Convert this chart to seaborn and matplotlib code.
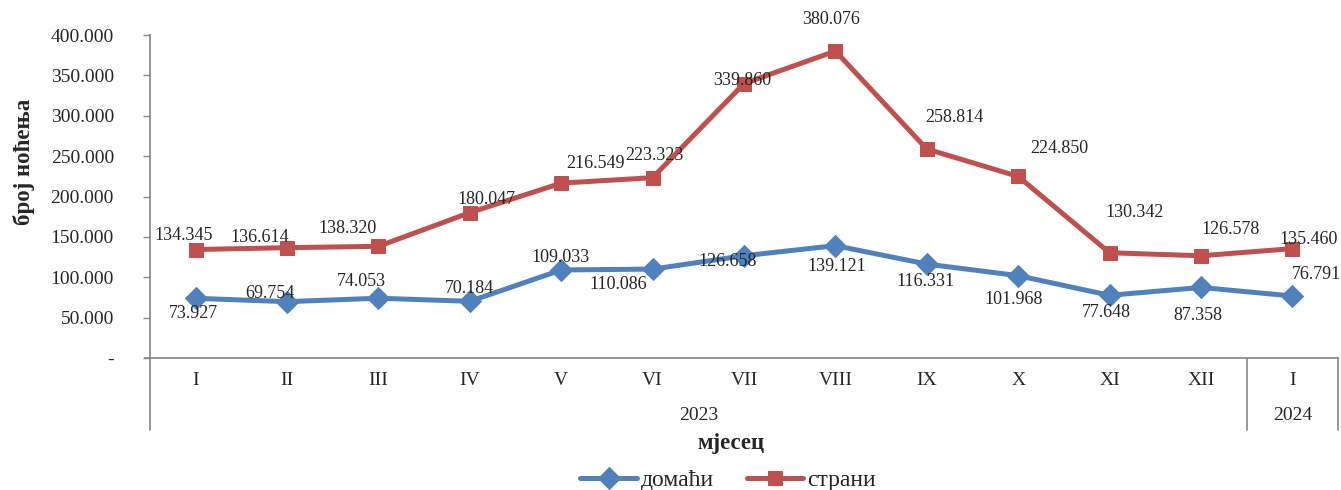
import matplotlib.pyplot as plt
import matplotlib.transforms as mtransforms
import numpy as np
import pandas as pd
import seaborn as sns

sns.set_style('white')
plt.rcParams['font.family'] = ['Liberation Serif', 'DejaVu Serif']

# podaci
months = ['I', 'II', 'III', 'IV', 'V', 'VI', 'VII', 'VIII', 'IX', 'X', 'XI', 'XII', 'I']
years = ['2023', '2024']
year_len = [12, 1]
domaci = [73927, 69754, 74053, 70184, 109033, 110086, 126658, 139121, 116331, 101968, 77648, 87358, 76791]
strani = [134345, 136614, 138320, 180047, 216549, 223323, 339860, 380076, 258814, 224850, 130342, 126578, 135460]
yticks = [0, 50000, 100000, 150000, 200000, 250000, 300000, 350000, 400000]

# pomaci natpisa (pikseli)
off_strani = [(-12, 14), (-27, 10), (-31, 18), (17, 13), (34, 20), (2, 22), (-2, 3),
              (-4, 32), (28, 32), (41, 28), (25, 40), (30, 26), (16, 9)]
off_domaci = [(-2, -15), (-17, 8), (-17, 17), (0, 13), (-1, 12), (-34, -15), (-16, -6),
              (1, -21), (-1, -17), (-5, -24), (-3, -17), (-3, -28), (24, 21)]

BLUE = '#4F81BD'
RED = '#C0504D'
GREY = '#868686'


def fmt(v):
    return '-' if v == 0 else f'{v:,}'.replace(',', '.')


df = pd.DataFrame({'x': np.arange(len(months)), 'домаћи': domaci, 'страни': strani})

fig = plt.figure(figsize=(13.41, 4.90), dpi=100)
ax = fig.add_axes([150 / 1341, 1 - 358 / 490, 1188 / 1341, 323 / 490])

sns.lineplot(data=df, x='x', y='домаћи', ax=ax, color=BLUE, linewidth=3.6,
             marker='D', markersize=11, markeredgecolor=BLUE, label='домаћи')
sns.lineplot(data=df, x='x', y='страни', ax=ax, color=RED, linewidth=3.6,
             marker='s', markersize=10, markeredgecolor=RED, label='страни')

# natpisi vrijednosti
for i, v in enumerate(strani):
    ax.annotate(fmt(v), (i, v), xytext=off_strani[i], textcoords='offset pixels',
                ha='center', va='center', fontsize=13, annotation_clip=False)
for i, v in enumerate(domaci):
    ax.annotate(fmt(v), (i, v), xytext=off_domaci[i], textcoords='offset pixels',
                ha='center', va='center', fontsize=13, annotation_clip=False)

ax.set_xlim(-0.5, len(months) - 0.5)
ax.set_ylim(0, 400000)
ax.set_yticks(yticks)
ax.set_yticklabels([fmt(v) for v in yticks], fontsize=14)
ax.set_xticks(np.arange(len(months)))
ax.set_xticklabels(months, fontsize=14)
ax.tick_params(axis='x', length=0, pad=10)
ax.tick_params(axis='y', length=5, width=1, color=GREY, left=True, pad=21)

for s in ['top', 'right']:
    ax.spines[s].set_visible(False)
for s in ['left', 'bottom']:
    ax.spines[s].set_color(GREY)
    ax.spines[s].set_linewidth(1.2)
ax.spines['bottom'].set_bounds(-0.5 - 0.06, len(months) - 0.5)

# okviri godina ispod osi
trans = mtransforms.blended_transform_factory(ax.transData, ax.transAxes)
edges = np.concatenate([[0], np.cumsum(year_len)]) - 0.5
for e in edges:
    ax.plot([e, e], [0, -72 / 323], transform=trans, color=GREY, lw=1.2, clip_on=False)
for k, yr in enumerate(years):
    ax.text((edges[k] + edges[k + 1]) / 2, -57 / 323, yr, transform=trans,
            ha='center', va='center', fontsize=14)

ax.set_xlabel('мјесец', fontsize=16.5, fontweight='bold')
ax.xaxis.set_label_coords(0.489, -0.232)
ax.set_ylabel('број ноћења', fontsize=16.5, fontweight='bold')
ax.yaxis.set_label_coords(-0.097, 0.607)

ax.legend(loc='center', bbox_to_anchor=(0.4865, -0.378), ncol=2, frameon=False,
          fontsize=17, handlelength=2.4, columnspacing=1.4, handletextpad=0.15)

plt.savefig('out.png', dpi=100)
